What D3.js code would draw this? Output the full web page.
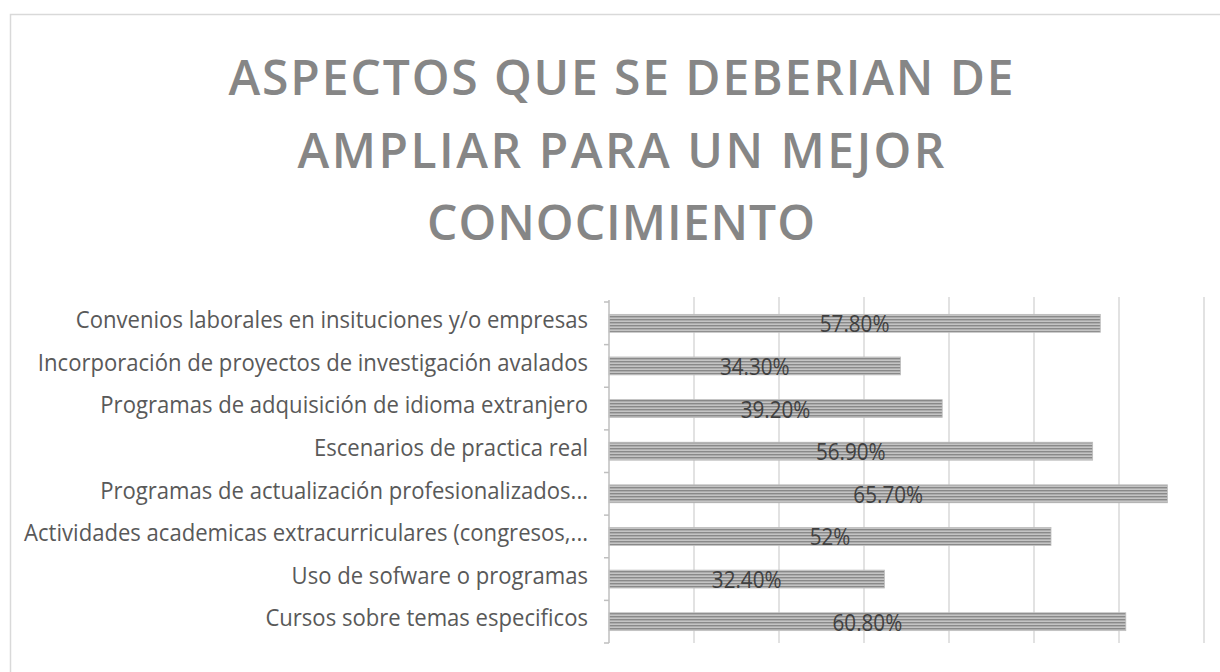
<!DOCTYPE html>
<html>
<head>
<meta charset="utf-8">
<script src="https://cdn.jsdelivr.net/npm/d3@7"></script>
<style>
  body { margin: 0; background: #fff; }
  svg { display: block; }
</style>
</head>
<body>
<script>
// chart data
var categories = [
    "Convenios laborales en insituciones y/o empresas",
    "Incorporación de proyectos de investigación avalados",
    "Programas de adquisición de idioma extranjero",
    "Escenarios de practica real",
    "Programas de actualización profesionalizados...",
    "Actividades academicas extracurriculares (congresos,...",
    "Uso de sofware o programas",
    "Cursos sobre temas especificos"
];
var values = [0.578, 0.343, 0.392, 0.569, 0.657, 0.52, 0.324, 0.608];
var valueLabels = ["57.80%", "34.30%", "39.20%", "56.90%", "65.70%", "52%", "32.40%", "60.80%"];
var xTicks = [0, 0.1, 0.2, 0.3, 0.4, 0.5, 0.6, 0.7];
var titleLines = ["ASPECTOS QUE SE DEBERIAN DE", "AMPLIAR PARA UN MEJOR", "CONOCIMIENTO"];

// squeeze text horizontally to mimic the narrow original font
function condense(sel, k) {
    sel.each(function() {
        var len = this.getComputedTextLength();
        d3.select(this)
          .attr("textLength", len * k)
          .attr("lengthAdjust", "spacingAndGlyphs");
    });
}

function init() {
    var w = 1220;
    var h = 672;

    var svg = d3.select("body")
                .append("svg")
                .attr("width", w)
                .attr("height", h);

    // striped fill like the original bars
    var defs = svg.append("defs");
    var pat = defs.append("pattern")
                  .attr("id", "stripes")
                  .attr("patternUnits", "userSpaceOnUse")
                  .attr("width", 8)
                  .attr("height", 3);
    pat.append("rect").attr("width", 8).attr("height", 3).attr("fill", "#c4c4c4");
    pat.append("rect").attr("y", 1).attr("width", 8).attr("height", 1.4).attr("fill", "#898989");

    // chart area border
    svg.append("rect")
       .attr("x", 10.5)
       .attr("y", 14.5)
       .attr("width", w)
       .attr("height", h)
       .attr("fill", "#fff")
       .attr("stroke", "#d9d9d9")
       .attr("stroke-width", 1.5);

    // title
    var title = svg.append("g")
                   .attr("font-family", "'Open Sans', sans-serif")
                   .attr("font-size", 48)
                   .attr("font-weight", 600)
                   .attr("fill", "#868686")
                   .attr("text-anchor", "middle");
    var titleWidths = [785, 647, 388];
    title.selectAll("text")
         .data(titleLines)
         .enter()
         .append("text")
         .attr("x", 621)
         .attr("y", (d, i) => 95 + i * 72.5)
         .attr("textLength", (d, i) => titleWidths[i])
         .attr("lengthAdjust", "spacing")
         .text(d => d);

    var x = d3.scaleLinear()
              .domain([0, 0.7])
              .range([609, 1204]);

    var y = d3.scaleBand()
              .domain(categories)
              .range([302, 643])
              .paddingInner(0.58)
              .paddingOuter(0.29);

    // vertical gridlines
    svg.append("g")
       .selectAll("line")
       .data(xTicks.slice(1))
       .enter()
       .append("line")
       .attr("x1", d => x(d))
       .attr("x2", d => x(d))
       .attr("y1", 297)
       .attr("y2", 643)
       .attr("stroke", "#d9d9d9")
       .attr("stroke-width", 1.5);

    // bars
    svg.append("g")
       .selectAll("rect")
       .data(values)
       .enter()
       .append("rect")
       .attr("x", x(0))
       .attr("y", (d, i) => y(categories[i]))
       .attr("width", d => x(d) - x(0))
       .attr("height", y.bandwidth())
       .attr("fill", "url(#stripes)")
       .attr("stroke", "#bdbdbd")
       .attr("stroke-width", 0.8);

    // category axis with ticks between bands
    var axis = svg.append("g").attr("stroke", "#bfbfbf").attr("stroke-width", 1.5);
    axis.append("line")
        .attr("x1", x(0)).attr("x2", x(0))
        .attr("y1", 300).attr("y2", 643);
    var bounds = categories.map(c => y(c) - y.step() * y.paddingInner() / 2);
    bounds.push(643);
    axis.selectAll(".tick")
        .data(bounds)
        .enter()
        .append("line")
        .attr("x1", x(0) - 5).attr("x2", x(0))
        .attr("y1", d => d).attr("y2", d => d);

    // category labels
    svg.append("g")
       .attr("font-family", "'Open Sans', sans-serif")
       .attr("font-size", 24)
       .attr("fill", "#595959")
       .attr("text-anchor", "end")
       .selectAll("text")
       .data(categories)
       .enter()
       .append("text")
       .attr("x", 588)
       .attr("y", d => y(d) + y.bandwidth() / 2)
       .attr("dy", "0.2em")
       .text(d => d)
       .call(condense, 0.92);

    // value labels centred in bars
    svg.append("g")
       .attr("font-family", "'Open Sans', sans-serif")
       .attr("font-size", 24)
       .attr("fill", "#404040")
       .attr("text-anchor", "middle")
       .selectAll("text")
       .data(values)
       .enter()
       .append("text")
       .attr("x", d => (x(0) + x(d)) / 2)
       .attr("y", (d, i) => y(categories[i]) + y.bandwidth() / 2)
       .attr("dy", "0.375em")
       .text((d, i) => valueLabels[i])
       .call(condense, 0.86);
}

window.onload = init;
</script>
</body>
</html>
